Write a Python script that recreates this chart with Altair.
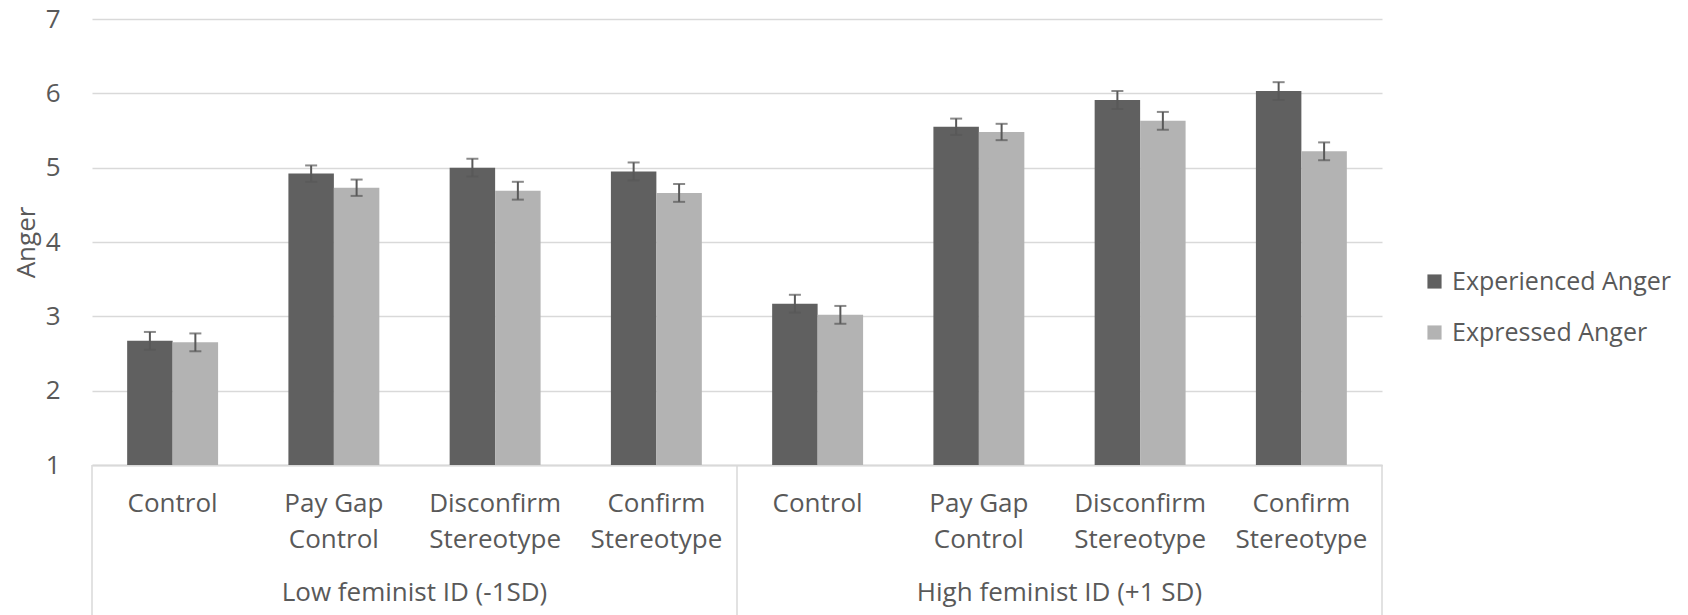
import altair as alt
import pandas as pd

groups = ["Low feminist ID (-1SD)", "High feminist ID (+1 SD)"]
cat_line1 = ["Control", "Pay Gap", "Disconfirm", "Confirm"]
cat_line2 = ["", "Control", "Stereotype", "Stereotype"]
series = ["Experienced Anger", "Expressed Anger"]
experienced = [2.67, 4.92, 5.00, 4.95, 3.17, 5.55, 5.91, 6.03]
expressed = [2.65, 4.73, 4.69, 4.66, 3.02, 5.48, 5.63, 5.22]
experienced_err = [0.12, 0.11, 0.12, 0.12, 0.12, 0.11, 0.12, 0.12]
expressed_err = [0.12, 0.11, 0.12, 0.12, 0.12, 0.11, 0.12, 0.12]
y_ticks = [1, 2, 3, 4, 5, 6, 7]
colors = ["#606060", "#b3b3b3"]

FONT = "Open Sans"
TXT = "#595959"
GRID = "#d9d9d9"
FS = 26

rows = []
keys = []
for gi, g in enumerate(groups):
    for ci in range(len(cat_line1)):
        idx = gi * len(cat_line1) + ci
        key = f"{gi}|{cat_line1[ci]}|{cat_line2[ci]}"
        keys.append(key)
        for si, (vals, errs) in enumerate([(experienced, experienced_err), (expressed, expressed_err)]):
            v = vals[idx]
            e = errs[idx]
            rows.append({"key": key, "group": g, "series": series[si],
                         "value": v, "lo": v - e, "hi": v + e})
df = pd.DataFrame(rows)

gdf = pd.DataFrame({"group": groups, "gpos": [i + 0.5 for i in range(len(groups))]})
bdf = pd.DataFrame({"b": list(range(len(groups) + 1))})

TOP = 11
W, H = 1290, 465 - 8 - TOP

x_enc = alt.X("key:N", sort=keys, title=None,
              scale=alt.Scale(paddingInner=0.436, paddingOuter=0.218),
              axis=alt.Axis(labelExpr="slice(split(datum.label, '|'), 1)",
                            labelAngle=0, labelFont=FONT, labelFontSize=FS,
                            labelColor=TXT, labelLineHeight=36, labelPadding=25,
                            ticks=False, domainColor=GRID, domainWidth=2,
                            grid=False))
xo = alt.XOffset("series:N", sort=series, scale=alt.Scale(paddingInner=0, paddingOuter=0))

base = alt.Chart(df)
bars = base.mark_bar().encode(
    x=x_enc, xOffset=xo,
    y=alt.Y("value:Q", scale=alt.Scale(domain=[1, 7], nice=False, zero=False),
            title="Anger",
            axis=alt.Axis(values=y_ticks, format="d", domain=False, ticks=False,
                          gridColor=GRID, gridWidth=1.5, labelFont=FONT,
                          labelFontSize=FS, labelColor=TXT, labelPadding=32,
                          titleFont=FONT, titleFontSize=26, titleColor=TXT,
                          titleFontWeight="normal", titlePadding=6)),
    y2=alt.datum(1),
    color=alt.Color("series:N", sort=series,
                    scale=alt.Scale(domain=series, range=colors),
                    legend=alt.Legend(title=None, orient="none", legendX=1330, legendY=250,
                                      symbolType="square", symbolSize=200,
                                      symbolStrokeWidth=0, labelFont=FONT,
                                      labelFontSize=25, labelColor=TXT, labelLimit=0,
                                      labelOffset=5, rowPadding=25)),
)
err_rule = base.mark_rule(color="#595959", strokeWidth=2).encode(
    x=alt.X("key:N", sort=keys), xOffset=xo, y="lo:Q", y2="hi:Q")
cap_lo = base.mark_tick(color="#595959", thickness=2, size=12, orient="horizontal").encode(
    x=alt.X("key:N", sort=keys), xOffset=xo, y="lo:Q")
cap_hi = base.mark_tick(color="#595959", thickness=2, size=12, orient="horizontal").encode(
    x=alt.X("key:N", sort=keys), xOffset=xo, y="hi:Q")

main = alt.layer(bars, err_rule, cap_lo, cap_hi)

xq = alt.X("b:Q", scale=alt.Scale(domain=[0, len(groups)], nice=False, zero=False), axis=None)
sep = alt.Chart(bdf).mark_rule(color=GRID, strokeWidth=1.5).encode(
    x=xq, y=alt.value(H), y2=alt.value(H + 160))
glab = alt.Chart(gdf).mark_text(font=FONT, fontSize=FS, color=TXT, baseline="middle").encode(
    x=alt.X("gpos:Q", scale=alt.Scale(domain=[0, len(groups)], nice=False, zero=False), axis=None),
    y=alt.value(H + 128), text="group:N")
overlay = alt.layer(sep, glab)

chart = alt.layer(main, overlay).resolve_scale(x="independent").properties(
    width=W, height=H,
    autosize=alt.AutoSizeParams(type="none"),
    padding={"left": 84, "top": TOP, "right": 298, "bottom": 615 - 8 - TOP - H},
).configure_view(stroke=None)

chart.save("out.html", embed_options={"renderer": "svg", "actions": False})
